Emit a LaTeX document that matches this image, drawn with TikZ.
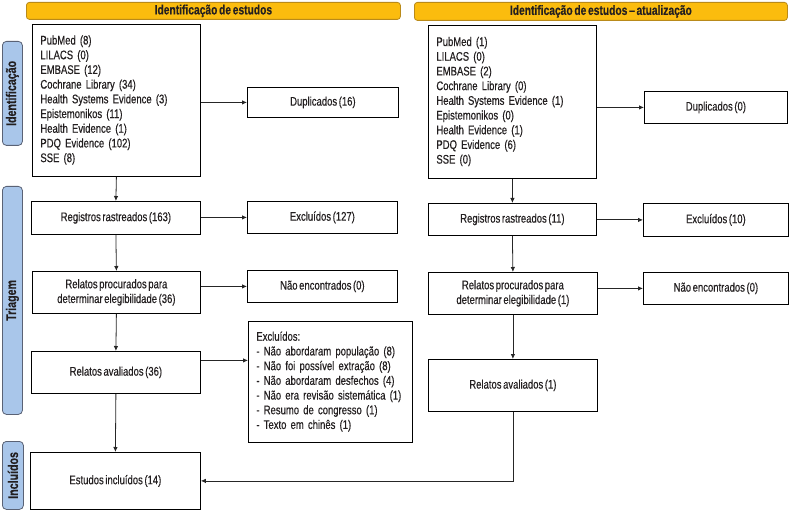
\documentclass[tikz,border=0pt]{standalone}
\usepackage{fontspec}
\setmainfont{Liberation Sans}[FakeStretch=0.76,WordSpace=0.6,FakeBold=0.4]
\usetikzlibrary{arrows.meta,calc}
\definecolor{hdrfill}{HTML}{FBBC0E}
\definecolor{hdrdraw}{HTML}{B98A1A}
\definecolor{sidefill}{HTML}{A9C6EA}
\definecolor{sidedraw}{HTML}{5A6275}
\definecolor{txt}{HTML}{231F20}
\newcommand{\lst}[1]{\begin{tabular}{@{}l@{}}#1\end{tabular}}
\tikzset{
  box/.style={draw=black, line width=0.8pt, fill=white, anchor=north west, align=center,
    text=txt, font=\fontsize{12.5}{14.7}\selectfont, inner sep=0pt},
  listbox/.style={box, align=left, inner xsep=8pt},
  hdr/.style={draw=hdrdraw, fill=hdrfill, rounded corners=3pt, line width=0.8pt, anchor=north west,
    font=\bfseries\fontsize{13.5}{14}\selectfont, text=txt, inner sep=0pt},
  side/.style={draw=sidedraw, fill=sidefill, rounded corners=4pt, line width=0.8pt, anchor=north west,
    inner sep=0pt},
  sidetxt/.style={rotate=90, font=\bfseries\fontsize{14}{14}\selectfont, text=txt},
  arr/.style={draw=black!85, line width=0.8pt, -{Latex[length=5pt,width=4.5pt]}}
}
\begin{document}
\begin{tikzpicture}[x=1pt,y=-1pt]
\useasboundingbox (0,0) rectangle (789,510);
% headers
\node[hdr, minimum width=374pt, minimum height=17pt] (h1) at (26,2) {Identificação de estudos};
\node[hdr, minimum width=373pt, minimum height=18pt] (h2) at (414,2) {Identificação de estudos -- atualização};
% side labels
\node[side, minimum width=20pt, minimum height=104pt] (s1) at (2,41) {};
\node[sidetxt] (s1t) at (s1.center) {Identificação};
\node[side, minimum width=20pt, minimum height=228pt] (s2) at (2,186) {};
\node[sidetxt] (s2t) at (s2.center) {Triagem};
\node[side, minimum width=21pt, minimum height=68pt] (s3) at (2,441) {};
\node[sidetxt] (s3t) at (s3.center) {Incluídos};
% left column
\node[listbox, minimum width=168pt, minimum height=152pt, text width=152pt] (src1) at (32,24)
 {\lst{PubMed (8)\\LILACS (0)\\EMBASE (12)\\Cochrane Library (34)\\Health Systems Evidence (3)\\Epistemonikos (11)\\Health Evidence (1)\\PDQ Evidence (102)\\SSE (8)}};
\node[box, minimum width=151pt, minimum height=30pt] (dup1) at (247,87) {Duplicados (16)};
\node[box, minimum width=169pt, minimum height=33pt] (reg1) at (31,201) {Registros rastreados (163)};
\node[box, minimum width=150pt, minimum height=32pt] (exc1) at (247,201) {Excluídos (127)};
\node[box, minimum width=168pt, minimum height=42pt] (rp1) at (32,271) {Relatos procurados para\\determinar elegibilidade (36)};
\node[box, minimum width=150pt, minimum height=32pt] (ne1) at (247,270) {Não encontrados (0)};
\node[box, minimum width=169pt, minimum height=42pt] (ra1) at (31,351) {Relatos avaliados (36)};
\node[listbox, minimum width=164pt, minimum height=121pt, text width=148pt] (exl) at (248,321)
 {\lst{Excluídos:\\- Não abordaram população (8)\\- Não foi possível extração (8)\\- Não abordaram desfechos (4)\\- Não era revisão sistemática (1)\\- Resumo de congresso (1)\\- Texto em chinês (1)}};
\node[box, minimum width=170pt, minimum height=57pt] (ei) at (30,452) {Estudos incluídos (14)};
% right column
\node[listbox, minimum width=168pt, minimum height=153pt, text width=152pt] (src2) at (428,25)
 {\lst{PubMed (1)\\LILACS (0)\\EMBASE (2)\\Cochrane Library (0)\\Health Systems Evidence (1)\\Epistemonikos (0)\\Health Evidence (1)\\PDQ Evidence (6)\\SSE (0)}};
\node[box, minimum width=143pt, minimum height=32pt] (dup2) at (644,91) {Duplicados (0)};
\node[box, minimum width=168pt, minimum height=32pt] (reg2) at (428,203) {Registros rastreados (11)};
\node[box, minimum width=145pt, minimum height=33pt] (exc2) at (643,203) {Excluídos (10)};
\node[box, minimum width=169pt, minimum height=42pt] (rp2) at (428,272) {Relatos procurados para\\determinar elegibilidade (1)};
\node[box, minimum width=145pt, minimum height=32pt] (ne2) at (643,272) {Não encontrados (0)};
\node[box, minimum width=169pt, minimum height=52pt] (ra2) at (428,359) {Relatos avaliados (1)};
% arrows left
\draw[arr] (src1.south) -- (reg1.north);
\draw[arr] (reg1.south) -- (rp1.north);
\draw[arr] (rp1.south) -- (ra1.north);
\draw[arr] (ra1.south) -- (ei.north);
\draw[arr] (src1.east |- dup1.west) -- (dup1.west);
\draw[arr] (reg1.east |- exc1.west) -- (exc1.west);
\draw[arr] (rp1.east |- ne1.west) -- (ne1.west);
\coordinate (ra1a) at ([yshift=12pt]ra1.east);
\draw[arr] (ra1a) -- (ra1a -| exl.west);
% arrows right
\draw[arr] (src2.south) -- (reg2.north);
\draw[arr] (reg2.south) -- (rp2.north);
\draw[arr] (rp2.south) -- (ra2.north);
\draw[arr] (src2.east |- dup2.west) -- (dup2.west);
\draw[arr] (reg2.east |- exc2.west) -- (exc2.west);
\draw[arr] (rp2.east |- ne2.west) -- (ne2.west);
\draw[arr] (ra2.south) |- (ei.east);
\end{tikzpicture}
\end{document}
